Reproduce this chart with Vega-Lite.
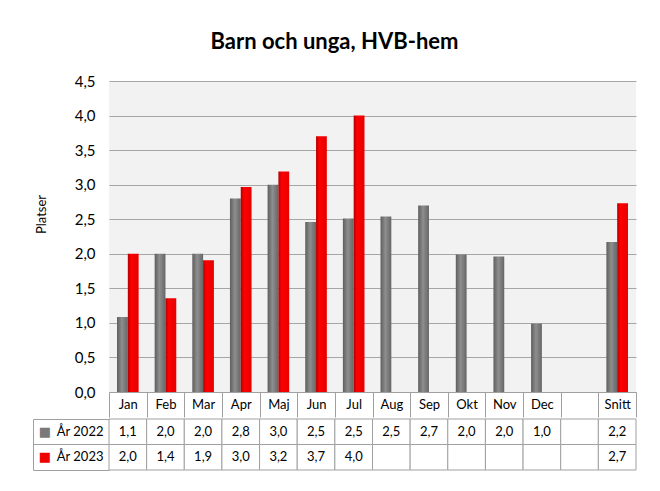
{
  "$schema": "https://vega.github.io/schema/vega-lite/v6.json",
  "padding": {"left": 32, "top": 31, "right": 10, "bottom": 5},
  "background": "white",
  "title": {"text": "Barn och unga, HVB-hem", "fontSize": 22, "fontWeight": "bold", "font": "Lato", "color": "#000000", "offset": 20, "anchor": "middle"},
  "datasets": {
    "vals": [
      {"cat": "Jan", "series": "År 2022", "value": 1.085},
      {"cat": "Feb", "series": "År 2022", "value": 2.0},
      {"cat": "Mar", "series": "År 2022", "value": 2.0},
      {"cat": "Apr", "series": "År 2022", "value": 2.8},
      {"cat": "Maj", "series": "År 2022", "value": 3.0},
      {"cat": "Jun", "series": "År 2022", "value": 2.46},
      {"cat": "Jul", "series": "År 2022", "value": 2.51},
      {"cat": "Aug", "series": "År 2022", "value": 2.54},
      {"cat": "Sep", "series": "År 2022", "value": 2.7},
      {"cat": "Okt", "series": "År 2022", "value": 1.99},
      {"cat": "Nov", "series": "År 2022", "value": 1.96},
      {"cat": "Dec", "series": "År 2022", "value": 0.99},
      {"cat": " ", "series": "År 2022", "value": null},
      {"cat": "Snitt", "series": "År 2022", "value": 2.17},
      {"cat": "Jan", "series": "År 2023", "value": 2.0},
      {"cat": "Feb", "series": "År 2023", "value": 1.356},
      {"cat": "Mar", "series": "År 2023", "value": 1.906},
      {"cat": "Apr", "series": "År 2023", "value": 2.967},
      {"cat": "Maj", "series": "År 2023", "value": 3.19},
      {"cat": "Jun", "series": "År 2023", "value": 3.7},
      {"cat": "Jul", "series": "År 2023", "value": 4.0},
      {"cat": "Aug", "series": "År 2023", "value": null},
      {"cat": "Sep", "series": "År 2023", "value": null},
      {"cat": "Okt", "series": "År 2023", "value": null},
      {"cat": "Nov", "series": "År 2023", "value": null},
      {"cat": "Dec", "series": "År 2023", "value": null},
      {"cat": " ", "series": "År 2023", "value": null},
      {"cat": "Snitt", "series": "År 2023", "value": 2.73}
    ]
  },
  "spacing": -5,
  "vconcat": [
    {
      "width": 527,
      "height": 311,
      "view": {"fill": "#f2f2f2", "stroke": null},
      "data": {"name": "vals"},
      "encoding": {
        "x": {
          "field": "cat", "type": "nominal",
          "scale": {"domain": ["Jan", "Feb", "Mar", "Apr", "Maj", "Jun", "Jul", "Aug", "Sep", "Okt", "Nov", "Dec", " ", "Snitt"], "paddingInner": 0, "paddingOuter": 0},
          "axis": {
            "title": null, "labelAngle": 0, "labelFontSize": 13, "labelColor": "#000000",
            "ticks": true, "tickBand": "extent", "tickSize": 25, "tickColor": "#a0a0a0", "tickWidth": 1,
            "domain": true, "domainColor": "#a0a0a0", "labelPadding": -12.5, "labelBaseline": "middle",
            "labelFlush": false, "labelOverlap": false, "minExtent": 25, "maxExtent": 25
          }
        },
        "xOffset": {"field": "series", "type": "nominal", "scale": {"domain": ["År 2022", "År 2023"], "paddingInner": 0, "paddingOuter": 0.742}},
        "y": {
          "field": "value", "type": "quantitative",
          "scale": {"domain": [0, 4.5], "nice": false},
          "axis": {
            "title": "Platser", "titleFontSize": 13, "titleFontWeight": "normal", "titleColor": "#000000", "titlePadding": 26, "titleY": 133,
            "values": [0, 0.5, 1, 1.5, 2, 2.5, 3, 3.5, 4, 4.5], "format": ".1f",
            "labelFontSize": 15, "labelColor": "#000000", "labelPadding": 14,
            "ticks": false, "domain": false, "grid": true, "gridColor": "#a6a6a6", "gridWidth": 1
          }
        }
      },
      "layer": [
        {
          "transform": [{"filter": "datum.series == 'År 2022' && isValid(datum.value)"}],
          "mark": {"type": "bar", "color": {"gradient": "linear", "x1": 0, "x2": 1, "y1": 0, "y2": 0, "stops": [{"offset": 0, "color": "#5e5e5e"}, {"offset": 0.45, "color": "#8e8e8e"}, {"offset": 1, "color": "#666666"}]}}
        },
        {
          "transform": [{"filter": "datum.series == 'År 2023' && isValid(datum.value)"}],
          "mark": {"type": "bar", "color": {"gradient": "linear", "x1": 0, "x2": 1, "y1": 0, "y2": 0, "stops": [{"offset": 0, "color": "#b00000"}, {"offset": 0.3, "color": "#ff0000"}, {"offset": 1, "color": "#e60000"}]}}
        }
      ]
    },
    {
      "width": 527,
      "height": 51,
      "view": {"fill": "white", "stroke": null},
      "data": {"name": "vals"},
      "encoding": {
        "x": {
          "field": "cat", "type": "nominal",
          "scale": {"domain": ["Jan", "Feb", "Mar", "Apr", "Maj", "Jun", "Jul", "Aug", "Sep", "Okt", "Nov", "Dec", " ", "Snitt"], "paddingInner": 0, "paddingOuter": 0},
          "axis": null
        },
        "y": {
          "field": "series", "type": "nominal",
          "scale": {"domain": ["År 2022", "År 2023"], "paddingInner": 0, "paddingOuter": 0},
          "axis": {
            "title": null, "offset": 76, "tickSize": -76, "bandPosition": 1, "tickExtra": true,
            "tickColor": "#a0a0a0", "domainColor": "#a0a0a0", "labelFontSize": 13, "labelColor": "#000000",
            "labelPadding": 6
          }
        }
      },
      "layer": [
        {"mark": {"type": "rect", "fill": "white", "stroke": "#a0a0a0", "strokeWidth": 1}},
        {
          "transform": [{"filter": "isValid(datum.value)"}],
          "mark": {"type": "text", "fontSize": 13, "color": "#000000"},
          "encoding": {"text": {"field": "value", "type": "quantitative", "format": ".1f"}}
        },
        {
          "transform": [{"filter": "datum.cat == 'Jan'"}],
          "mark": {"type": "text", "text": "■", "fontSize": 13, "dx": -83, "font": "DejaVu Sans"},
          "encoding": {"color": {"field": "series", "type": "nominal", "scale": {"domain": ["År 2022", "År 2023"], "range": ["#7a7a7a", "#ee0000"]}, "legend": null}}
        }
      ]
    }
  ],
  "config": {
    "font": "Lato",
    "locale": {"number": {"decimal": ",", "thousands": " ", "grouping": [3], "currency": ["", " kr"]}},
    "view": {"stroke": null}
  }
}
